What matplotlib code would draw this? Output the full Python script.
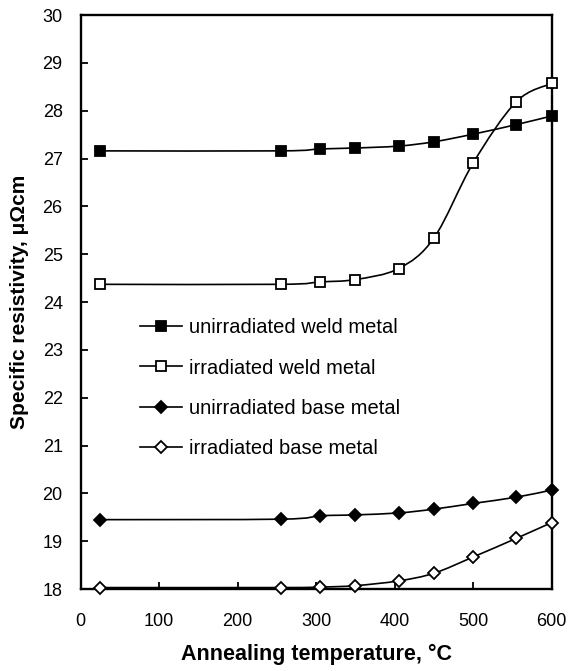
import matplotlib
matplotlib.use("Agg")
import matplotlib.pyplot as plt
from matplotlib.path import Path
from matplotlib.patches import PathPatch
import numpy as np

plt.rcParams['font.family'] = ['Liberation Sans', 'DejaVu Sans']

temperature = [25, 255, 305, 350, 405, 450, 500, 555, 600]
unirr_weld = [27.16, 27.16, 27.20, 27.22, 27.26, 27.35, 27.51, 27.71, 27.89]
irr_weld = [24.37, 24.37, 24.42, 24.47, 24.70, 25.34, 26.91, 28.19, 28.57]
unirr_base = [19.45, 19.46, 19.53, 19.55, 19.59, 19.67, 19.79, 19.92, 20.07]
irr_base = [18.03, 18.03, 18.04, 18.07, 18.17, 18.33, 18.67, 19.06, 19.39]

labels = ["unirradiated weld metal", "irradiated weld metal",
          "unirradiated base metal", "irradiated base metal"]
series = [unirr_weld, irr_weld, unirr_base, irr_base]
markers = ['s', 's', 'D', 'D']
faces = ['black', 'white', 'black', 'white']
msizes = [6.5, 6.5, 6.0, 6.0]

x_ticks = [0, 100, 200, 300, 400, 500, 600]
y_ticks = list(range(18, 31))


def smooth_path(x, y, t=1/6):
    pts = np.column_stack([x, y]).astype(float)
    n = len(pts)
    verts = [pts[0]]
    codes = [Path.MOVETO]
    for i in range(n - 1):
        p0 = pts[i - 1] if i > 0 else pts[i]
        p1 = pts[i]
        p2 = pts[i + 1]
        p3 = pts[i + 2] if i + 2 < n else pts[i + 1]
        c1 = p1 + (p2 - p0) * t
        c2 = p2 - (p3 - p1) * t
        verts += [c1, c2, p2]
        codes += [Path.CURVE4] * 3
    return Path(verts, codes)


fig = plt.figure(figsize=(5.71, 6.71), dpi=100)
ax = fig.add_axes([0.1413, 0.1222, 0.825, 0.8554])

handles = []
for ys, m, fc, ms, lab in zip(series, markers, faces, msizes, labels):
    patch = PathPatch(smooth_path(temperature, ys), facecolor='none',
                      edgecolor='black', lw=1.2, zorder=2)
    ax.add_patch(patch)
    ax.plot(temperature, ys, linestyle='none', marker=m, markersize=ms,
            markerfacecolor=fc, markeredgecolor='black', markeredgewidth=1.3,
            zorder=3, clip_on=False)
    handles.append(plt.Line2D([], [], color='black', lw=1.2, marker=m,
                              markersize=ms, markerfacecolor=fc,
                              markeredgecolor='black', markeredgewidth=1.3))

ax.set_xlim(0, 600)
ax.set_ylim(18, 30)
ax.set_xticks(x_ticks)
ax.set_yticks(y_ticks)
ax.tick_params(direction='in', length=5, width=1.3, labelsize=13)
ax.tick_params(axis='x', pad=17)
ax.tick_params(axis='y', pad=13)
for s in ax.spines.values():
    s.set_linewidth(1.7)

ax.set_xlabel("Annealing temperature, °C", fontsize=15.5, fontweight='bold', labelpad=10)
ax.set_ylabel("Specific resistivity, μΩcm", fontsize=15, fontweight='bold', labelpad=10)

ax.legend(handles, labels, loc='upper left', bbox_to_anchor=(0.1035, 0.489),
          frameon=False, fontsize=14.5, handlelength=2.09, handletextpad=0.35,
          labelspacing=1.05, borderpad=0)

fig.savefig("out.png", dpi=100)
